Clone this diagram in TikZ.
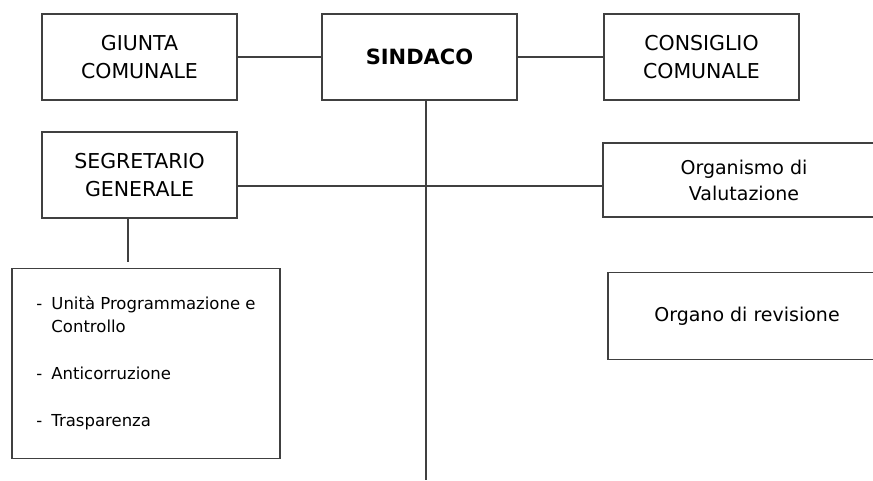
\documentclass[tikz,border=0pt]{standalone}
\usepackage{fontspec}
\setmainfont{DejaVu Sans}
\usetikzlibrary{calc}
\tikzset{
	ufficio/.style={draw=black!75,line width=1.4pt,align=center,inner sep=0pt,
		minimum width=195pt,minimum height=86pt,font=\fontsize{20.5}{28}\selectfont},
	collegamento/.style={draw=black!75,line width=1.4pt}
}

\begin{document}
\begin{tikzpicture}[x=1pt,y=-1pt]
\useasboundingbox (0,0) rectangle (873,480);
\node [ufficio] (giunta) at (139.5,57) {GIUNTA\\COMUNALE};
\node [ufficio,font=\fontsize{21}{26}\selectfont\bfseries] (sindaco) at (419.5,57) {SINDACO};
\node [ufficio] (consiglio) at (701.5,57) {CONSIGLIO\\COMUNALE};
\node [ufficio] (segretario) at (139.5,175) {SEGRETARIO\\GENERALE};

\node [ufficio,minimum width=282pt,minimum height=74pt,font=\fontsize{19}{26}\selectfont] (organismo) at (744,180) {Organismo di\\Valutazione};
\node [ufficio,minimum width=278pt,minimum height=87pt,font=\fontsize{19}{26}\selectfont] (organo) at (747,316) {Organo di revisione};

\node [ufficio,minimum width=268pt,minimum height=190pt,font=\fontsize{16.5}{23}\selectfont] (attivita) at (146,363.5)
	{\begin{tabular}{@{}l@{\hspace{9pt}}l@{}}
	- & Unità Programmazione e\\
	  & Controllo\\[24pt]
	- & Anticorruzione\\[24pt]
	- & Trasparenza
	\end{tabular}};

\coordinate (fine)		at (426,480);
\coordinate (riga)		at (0,186);
\coordinate (stacco)	at (128,262);

\draw [collegamento] (giunta) -- (sindaco);
\draw [collegamento] (sindaco) -- (consiglio);
\draw [collegamento] (sindaco.south -| fine) -- (fine);
\draw [collegamento] (segretario.east |- riga) -- (organismo.west |- riga);
\draw [collegamento] (segretario.south -| stacco) -- (stacco);
\end{tikzpicture}
\end{document}
